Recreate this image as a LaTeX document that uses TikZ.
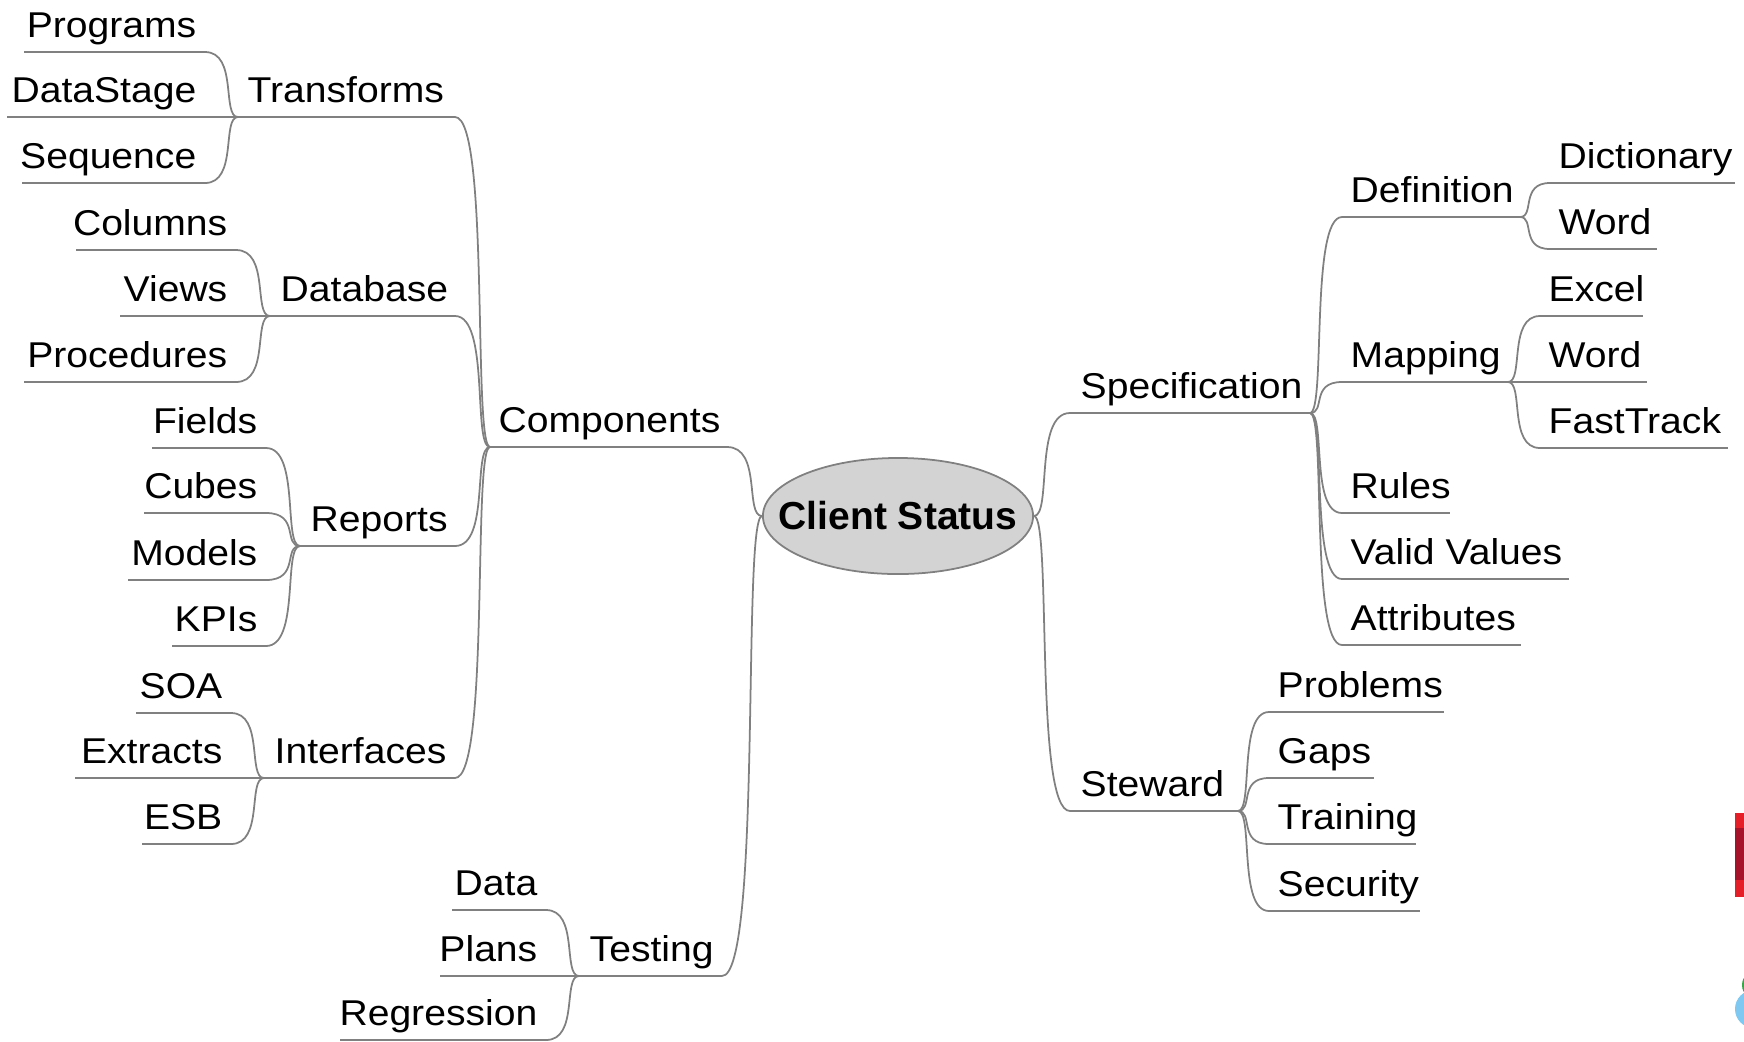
\documentclass[tikz,border=0pt]{standalone}
\usepackage{fontspec}
\setmainfont{Liberation Sans}[FakeStretch=1.09]
\newfontfamily\csfont{Liberation Sans}
\usetikzlibrary{calc,shapes.geometric}
\definecolor{lncol}{RGB}{128,128,128}
\definecolor{elfill}{RGB}{211,211,211}
\definecolor{logored}{RGB}{229,31,39}
\definecolor{logodark}{RGB}{165,18,42}
\definecolor{logoblue}{RGB}{126,200,242}
\definecolor{logogreen}{RGB}{59,165,74}
\newcommand{\tp}[7]{%
  \node[#2] (#1) at (#3,#4-15) {#7};
  \coordinate (#1-a) at (#5,#4);
  \coordinate (#1-b) at (#6,#4);
  \draw[ln] (#1-a) -- (#1-b);
}
\newcommand{\connL}[2]{\draw[ln] let \p1=(#1), \p2=(#2) in (\p1) .. controls (\x2,\y1) and ({\x2-0.5*(\x2-\x1)},\y2) .. (\p2);}
\newcommand{\connR}[2]{\draw[ln] let \p1=(#1), \p2=(#2) in (\p1) .. controls ({\x1+0.5*(\x2-\x1)},\y1) and (\x1,\y2) .. (\p2);}
\begin{document}
\begin{tikzpicture}[x=0.01cm,y=-0.01cm]
\tikzset{
  lbl/.style={inner sep=0pt, font=\fontsize{10.2}{12}\selectfont},
  lblL/.style={lbl, anchor=base east},
  lblR/.style={lbl, anchor=base west},
  ln/.style={draw=lncol, line width=0.5pt},
  rootnode/.style={ellipse, fill=elfill, draw=lncol, line width=0.5pt,
    minimum width=2.7cm, minimum height=1.16cm, inner sep=0pt,
    font=\csfont\bfseries\fontsize{11.1}{13}\selectfont}
}
\useasboundingbox (0,0) rectangle (1744,1041);

% root
\node[rootnode] (cs) at (898,516) {\makebox[0pt]{Client Status}};

% ---------- left side ----------
\tp{prog}{lblL}{197}{52}{24}{205}{Programs}
\tp{dstg}{lblL}{197}{117}{7}{205}{DataStage}
\tp{sequ}{lblL}{197}{183}{22}{205}{Sequence}
\tp{trans}{lblR}{247}{117}{238}{455}{Transforms}
\tp{cols}{lblL}{228}{250}{76}{236}{Columns}
\tp{views}{lblL}{228}{316}{120}{236}{Views}
\tp{procs}{lblL}{228}{382}{24}{236}{Procedures}
\tp{db}{lblR}{280}{316}{270}{455}{Database}
\tp{fields}{lblL}{258}{448}{152}{266}{Fields}
\tp{cubes}{lblL}{258}{513}{144}{266}{Cubes}
\tp{models}{lblL}{258}{580}{128}{266}{Models}
\tp{kpis}{lblL}{258}{646}{172}{266}{KPIs}
\tp{reports}{lblR}{310}{546}{300}{455}{Reports}
\tp{soa}{lblL}{223}{713}{136}{231}{SOA}
\tp{extr}{lblL}{223}{778}{75}{231}{Extracts}
\tp{esb}{lblL}{223}{844}{142}{231}{ESB}
\tp{intf}{lblR}{274}{778}{264}{455}{Interfaces}
\tp{comp}{lblR}{498}{447}{490}{727}{Components}
\tp{data}{lblL}{538}{910}{452}{546}{Data}
\tp{plans}{lblL}{538}{976}{440}{546}{Plans}
\tp{regr}{lblL}{538}{1040}{340}{546}{Regression}
\tp{test}{lblR}{589}{976}{579}{722}{Testing}

\connL{prog-b}{trans-a}
\connL{dstg-b}{trans-a}
\connL{sequ-b}{trans-a}
\connL{cols-b}{db-a}
\connL{views-b}{db-a}
\connL{procs-b}{db-a}
\connL{fields-b}{reports-a}
\connL{cubes-b}{reports-a}
\connL{models-b}{reports-a}
\connL{kpis-b}{reports-a}
\connL{soa-b}{intf-a}
\connL{extr-b}{intf-a}
\connL{esb-b}{intf-a}
\connL{trans-b}{comp-a}
\connL{db-b}{comp-a}
\connL{reports-b}{comp-a}
\connL{intf-b}{comp-a}
\connL{data-b}{test-a}
\connL{plans-b}{test-a}
\connL{regr-b}{test-a}
\connL{comp-b}{cs.west}
\connL{test-b}{cs.west}

% ---------- right side ----------
\tp{spec}{lblR}{1080}{413}{1070}{1310}{Specification}
\tp{defn}{lblR}{1350}{217}{1342}{1520}{Definition}
\tp{dict}{lblR}{1558}{183}{1550}{1735}{Dictionary}
\tp{wordA}{lblR}{1558}{249}{1550}{1657}{Word}
\tp{map}{lblR}{1350}{382}{1342}{1508}{Mapping}
\tp{excel}{lblR}{1548}{316}{1540}{1643}{Excel}
\tp{wordB}{lblR}{1548}{382}{1540}{1647}{Word}
\tp{fast}{lblR}{1548}{448}{1540}{1728}{FastTrack}
\tp{rules}{lblR}{1350}{513}{1342}{1450}{Rules}
\tp{valid}{lblR}{1350}{579}{1342}{1569}{Valid Values}
\tp{attr}{lblR}{1350}{645}{1342}{1521}{Attributes}
\tp{stew}{lblR}{1080}{811}{1070}{1238}{Steward}
\tp{probs}{lblR}{1277}{712}{1269}{1444}{Problems}
\tp{gaps}{lblR}{1277}{778}{1269}{1374}{Gaps}
\tp{train}{lblR}{1277}{844}{1269}{1416}{Training}
\tp{secu}{lblR}{1277}{911}{1269}{1420}{Security}

\connR{cs.east}{spec-a}
\connR{cs.east}{stew-a}
\connR{spec-b}{defn-a}
\connR{spec-b}{map-a}
\connR{spec-b}{rules-a}
\connR{spec-b}{valid-a}
\connR{spec-b}{attr-a}
\connR{defn-b}{dict-a}
\connR{defn-b}{wordA-a}
\connR{map-b}{excel-a}
\connR{map-b}{wordB-a}
\connR{map-b}{fast-a}
\connR{stew-b}{probs-a}
\connR{stew-b}{gaps-a}
\connR{stew-b}{train-a}
\connR{stew-b}{secu-a}

% ---------- cropped logo fragments at right edge ----------
\begin{scope}
  \clip (0,0) rectangle (1744,1041);
  \fill[logored] (1735,813) rectangle (1750,897);
  \fill[logodark] (1735,828) rectangle (1750,880);
  \fill[logogreen] (1747,985) ellipse [x radius=5, y radius=9];
  \fill[logoblue] (1754,1009) circle [radius=19];
\end{scope}
\end{tikzpicture}
\end{document}
